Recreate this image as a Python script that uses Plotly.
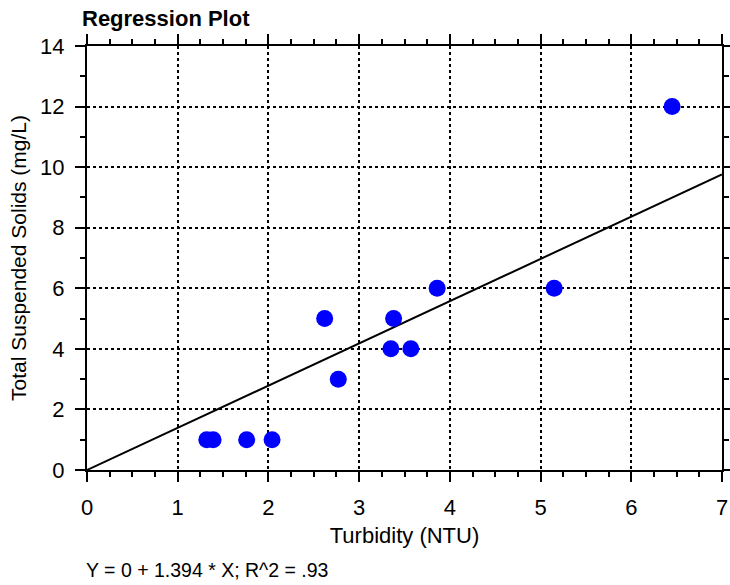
import plotly.graph_objects as go

turbidity = [1.32, 1.39, 1.76, 2.04, 2.62, 2.77, 3.35, 3.38, 3.57, 3.86, 5.15, 6.45]
tss = [1, 1, 1, 1, 5, 3, 4, 5, 4, 6, 6, 12]
slope = 1.394
intercept = 0.0
line_x = [0, 7]
line_y = [intercept + slope * v for v in line_x]

fig = go.Figure()
fig.add_trace(go.Scatter(x=line_x, y=line_y, mode="lines",
                         line=dict(color="black", width=2), showlegend=False, cliponaxis=False))
fig.add_trace(go.Scatter(x=turbidity, y=tss, mode="markers",
                         marker=dict(color="#0000FF", size=17, line=dict(width=0)),
                         showlegend=False))

font = "Liberation Sans, Arial, sans-serif"
axis_common = dict(
    showline=True, linecolor="black", linewidth=2, mirror="ticks",
    ticks="outside", ticklen=10, tickwidth=2, tickcolor="black",
    showgrid=True, gridcolor="black", griddash="dot", gridwidth=1.5,
    zeroline=False, tickfont=dict(family=font, size=22, color="black"),
    automargin=False,
)
fig.update_xaxes(range=[0, 7], dtick=1, tick0=0, ticklabelstandoff=7,
                 minor=dict(dtick=0.25, ticks="outside", ticklen=5, tickwidth=2, tickcolor="black", showgrid=False),
                 title=dict(text="Turbidity (NTU)", font=dict(family=font, size=22, color="black"), standoff=8),
                 **axis_common)
fig.update_yaxes(range=[0, 14], dtick=2, tick0=0, ticklabelstandoff=6,
                 minor=dict(dtick=1, ticks="outside", ticklen=5, tickwidth=2, tickcolor="black", showgrid=False),
                 title=dict(text="Total Suspended Solids (mg/L)", font=dict(family=font, size=21, color="black"), standoff=8),
                 **axis_common)

fig.update_layout(
    width=730, height=585,
    margin=dict(l=87, r=8, t=46, b=115),
    plot_bgcolor="white", paper_bgcolor="white",
    title=dict(text="<b>Regression Plot</b>", font=dict(family=font, size=22, color="black"),
               xref="container", x=82/730, xanchor="left",
               yref="container", y=1-18/585, yanchor="middle"),
    annotations=[dict(text="Y = 0 + 1.394 * X; R^2 = .93", xref="paper", yref="paper",
                      x=-3/635, y=-100/424, xanchor="left", yanchor="middle", showarrow=False,
                      font=dict(family=font, size=19.5, color="black"))],
)
fig.write_html("out.html")
